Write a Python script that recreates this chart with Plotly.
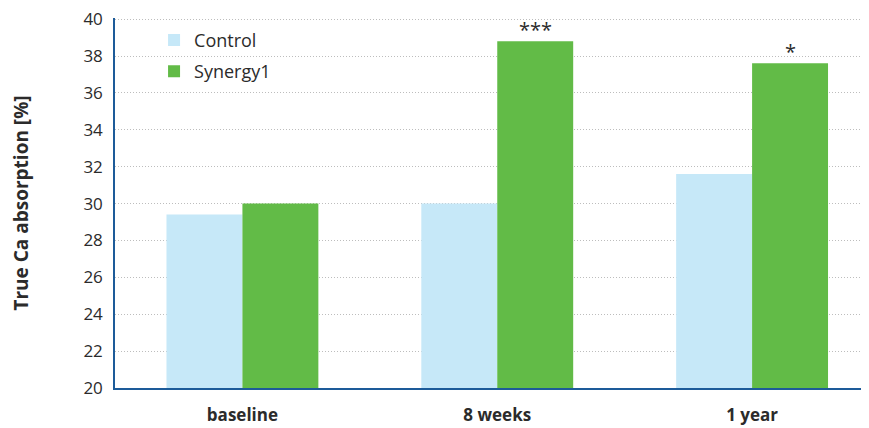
import plotly.graph_objects as go

categories = ["baseline", "8 weeks", "1 year"]
control = [29.4, 30.0, 31.6]
synergy = [30.0, 38.8, 37.6]
significance = ["", "***", "*"]
y_ticks = [20, 22, 24, 26, 28, 30, 32, 34, 36, 38, 40]

FONT = "Open Sans"
TXT = "#2b2b2b"
AXIS = "#1d5b99"

fig = go.Figure()
fig.add_trace(go.Bar(x=categories, y=control, name="Control", legendgroup="c",
                     marker=dict(color="#c6e8f8", line=dict(width=0))))
fig.add_trace(go.Bar(x=categories, y=synergy, name="Synergy1", legendgroup="s",
                     marker=dict(color="#62bb47", line=dict(width=0))))

for cat, val, sig in zip(categories, synergy, significance):
    if sig:
        fig.add_annotation(x=cat, y=val, text=sig, showarrow=False,
                           xshift=38, yanchor="bottom", yshift=-4,
                           font=dict(family=FONT, size=20, color=TXT))

# page body has an 8px margin, so the figure is sized to fill the rest of the window
fig.update_layout(
    width=861, height=420,
    margin=dict(l=107, r=3, t=10, b=40, autoexpand=False),
    plot_bgcolor="white", paper_bgcolor="white",
    barmode="group", bargap=0.404, bargroupgap=0,
    font=dict(family=FONT, color=TXT),
    legend=dict(x=0.052, y=0.99, xanchor="left", yanchor="top",
                font=dict(family=FONT, size=18, color=TXT),
                traceorder="grouped", tracegroupgap=5,
                bgcolor="rgba(0,0,0,0)", itemwidth=30),
    showlegend=True,
)
fig.update_xaxes(
    range=[-0.5, 2.447], showline=True, linecolor=AXIS, linewidth=1.5,
    ticks="", showgrid=False, ticklabelstandoff=11,
    tickfont=dict(family=FONT, size=17, color=TXT, weight="bold"),
)
fig.update_yaxes(
    range=[20, 40.06], tickvals=y_ticks, showline=True, linecolor=AXIS, linewidth=1.5,
    ticks="", showgrid=True, gridcolor="#bdbdbd", griddash="1px,2px", gridwidth=1,
    tickfont=dict(family=FONT, size=17, color=TXT), ticklabelstandoff=7,
    ticklabeloverflow="allow",
    title=dict(text="True Ca absorption [%]", standoff=51,
               font=dict(family=FONT, size=19, color=TXT, weight="bold")),
    zeroline=False,
)
fig.write_html("out.html")
